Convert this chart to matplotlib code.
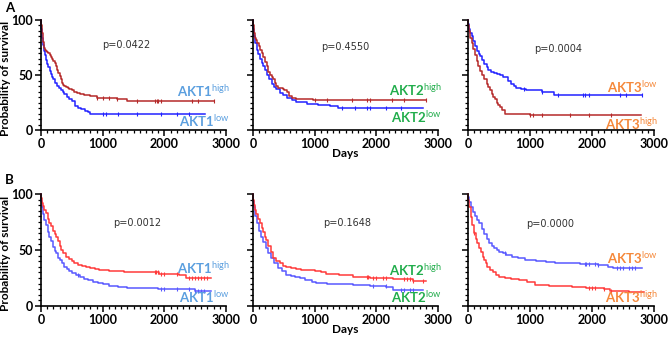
import numpy as np
import matplotlib
matplotlib.use("Agg")
import matplotlib.pyplot as plt
from matplotlib.ticker import MultipleLocator

plt.rcParams["font.family"] = ["Lato", "DejaVu Sans"]
plt.rcParams["mathtext.fontset"] = "custom"
plt.rcParams["mathtext.rm"] = "Lato"

# --- Kaplan-Meier curves (days, % surviving) ---------------------------
a1_high_t = [0, 5, 15, 30, 45, 60, 80, 100, 120, 140, 160, 180, 200, 220, 240, 260, 280, 300, 320, 340,
             360, 380, 400, 430, 460, 500, 540, 580, 640, 700, 800, 900, 1050, 1230, 1390, 2800]
a1_high_s = [100, 95, 88, 80, 75, 73, 72, 71, 70, 68, 66, 65, 63, 61, 58, 55, 52, 49, 46, 43,
             41, 40, 39, 38, 37, 36, 35, 34, 33, 32, 31, 29.5, 29, 28, 26.6, 26.6]
a1_low_t = [0, 5, 15, 30, 45, 60, 80, 100, 120, 140, 160, 180, 200, 230, 260, 290, 320, 350, 380, 420,
            460, 500, 550, 600, 650, 710, 760, 800, 2660]
a1_low_s = [100, 92, 84, 77, 72, 68, 64, 60, 57, 54, 51, 48, 46, 43, 40, 38, 36, 35, 33, 30,
            28, 26, 22, 20, 19, 17, 16, 15, 15]

a2_high_t = [0, 5, 15, 30, 50, 70, 90, 110, 140, 160, 190, 220, 245, 270, 300, 330, 350, 380, 410, 450,
             480, 510, 545, 580, 625, 700, 800, 975, 2810]
a2_high_s = [100, 95, 88, 84, 82, 79, 76, 73, 70, 66, 62, 58, 53, 50, 48, 46, 43, 40, 38, 38,
             37, 36, 35, 31, 29, 28.5, 28, 27, 27]
a2_low_t = [0, 5, 15, 30, 60, 80, 110, 140, 165, 190, 230, 260, 300, 340, 380, 430, 490, 550, 625, 700,
            870, 1050, 1250, 1380, 2750]
a2_low_s = [100, 92, 85, 79, 73, 69, 65, 61, 58, 55, 50, 46, 42, 39, 37, 34, 32, 29, 27, 25.5,
            24, 23, 22, 20, 20]

a3_low_t = [0, 5, 20, 40, 58, 80, 112, 140, 170, 190, 220, 260, 300, 325, 370, 420, 470, 510, 570, 645,
            700, 740, 777, 850, 936, 1200, 1390, 2810]
a3_low_s = [100, 96, 92, 88, 85, 81, 76, 72, 69, 67, 64, 60, 57, 55, 53, 52, 51, 50, 48, 45,
            42, 40, 38, 37, 36, 35, 32, 32]
a3_high_t = [0, 5, 20, 40, 58, 80, 110, 140, 165, 200, 230, 260, 300, 330, 350, 380, 405, 430, 460, 490,
             510, 550, 590, 1000, 2790]
a3_high_s = [100, 95, 90, 84, 79, 74, 68, 63, 58, 54, 50, 46, 42, 39, 36, 33, 30, 28, 25, 23,
             21, 18, 15, 14, 14]

b1_high_t = [0, 5, 20, 40, 55, 80, 110, 135, 160, 190, 220, 240, 270, 300, 330, 350, 400, 450, 500, 540,
             600, 660, 730, 800, 870, 945, 1100, 1200, 1350, 1480, 1700, 1920, 2100, 2240, 2350, 2750]
b1_high_s = [100, 96, 92, 89, 86, 83, 78, 74, 71, 67, 64, 62, 58, 54, 50, 47, 44, 42, 40, 38,
             37, 36, 35, 34, 33, 32, 31.5, 31, 30.8, 30.5, 30, 29, 28.5, 27.7, 24.7, 24.7]
b1_low_t = [0, 5, 20, 40, 55, 80, 110, 135, 160, 190, 220, 240, 270, 300, 340, 378, 420, 460, 510, 567,
            630, 700, 770, 836, 920, 1000, 1106, 1250, 1400, 1592, 1900, 2240, 2500, 2750]
b1_low_s = [100, 94, 88, 82, 77, 72, 66, 62, 58, 53, 49, 47, 43, 41, 38, 35, 33, 31, 29.5, 27.7,
            26, 24.5, 23, 21.7, 20.5, 19.5, 17.9, 17, 16.3, 15.8, 15.3, 14.9, 13.7, 13.7]

b2_high_t = [0, 5, 15, 28, 50, 80, 110, 140, 170, 200, 216, 250, 290, 324, 370, 430, 480, 540, 620, 700,
             780, 865, 1000, 1100, 1190, 1400, 1620, 1900, 2270, 2600, 2810]
b2_high_s = [100, 95, 90, 86, 82, 78, 74, 70, 66, 62, 59, 54, 48, 43, 40, 38, 36, 35, 34, 33,
             32.5, 32, 31, 30, 29, 27.5, 26, 25, 23.8, 22.3, 22.3]
b2_low_t = [0, 5, 15, 40, 70, 100, 135, 170, 210, 250, 297, 340, 400, 470, 540, 620, 680, 756, 850, 950,
            1026, 1200, 1400, 1620, 1900, 2160, 2270, 2750]
b2_low_s = [100, 94, 88, 80, 74, 67, 62, 57, 52, 47, 43, 38, 34, 31, 27.7, 26.5, 25.5, 24.7, 23, 21.5,
            20.2, 19.8, 19.2, 18.7, 18, 17.3, 14.3, 14.3]

b3_low_t = [0, 5, 20, 48, 80, 110, 140, 180, 220, 260, 300, 340, 380, 420, 460, 500, 560, 620, 712, 800,
            925, 1100, 1250, 1404, 1600, 1800, 1936, 2100, 2255, 2340, 2813]
b3_low_s = [100, 97, 93, 88.7, 84, 80, 77, 73.8, 69, 64, 60, 56, 54, 52, 50, 48.5, 47, 45.5, 44, 42.5,
            41, 40, 39.3, 38.7, 38.2, 37.6, 37.2, 36.5, 35, 33.6, 33.6]
b3_high_t = [0, 5, 20, 48, 70, 100, 130, 150, 180, 207, 240, 260, 290, 313, 350, 400, 450, 500, 600, 700,
             820, 950, 1085, 1300, 1500, 1670, 1900, 2200, 2290, 2600, 2840]
b3_high_s = [100, 95, 88, 79.8, 72, 65, 60, 56, 52, 48.5, 44, 41, 38, 35, 32, 30, 28, 26, 25, 24,
             23, 21, 18.7, 18.2, 17.7, 17.3, 16.5, 15, 13.4, 12.8, 12.8]

# censored observations (days)
a1_high_c = [900, 1000, 1100, 1230, 1550, 1850, 1880, 1900, 1950, 2450, 2550, 2800]
a1_low_c = [1000, 1050, 1250, 1550, 1950, 2200, 2400]
a2_high_c = [1000, 1200, 1600, 1850, 1900, 2250, 2450, 2800]
a2_low_c = [1450, 1650, 1850, 1900, 2150, 2400]
a3_low_c = [900, 1200, 1450, 1850, 1880, 1950, 2450, 2550, 2800]
a3_high_c = [1000, 1050, 1200, 1650, 1950, 2300]
b1_high_c = [1850, 1870, 1900, 1950, 2000, 2200, 2400, 2450, 2500, 2550, 2600, 2650, 2700]
b1_low_c = [600, 1950, 2000, 2200, 2400, 2500, 2550, 2600, 2650]
b2_high_c = [1850, 1870, 1950, 2000, 2100, 2150, 2450, 2500, 2550, 2600, 2750]
b2_low_c = [1950, 2150, 2400, 2450, 2550, 2600]
b3_low_c = [600, 1880, 1900, 1950, 2050, 2100, 2400, 2450, 2500, 2600, 2650, 2700]
b3_high_c = [100, 1950, 2000, 2050, 2200, 2300]

p_values = ["p=0.0422", "p=0.4550", "p=0.0004", "p=0.0012", "p=0.1648", "p=0.0000"]
p_pos = [(1390, 77), (1490, 75), (1450, 74), (1560, 74), (1530, 74), (1330, 73)]

genes = ["AKT1", "AKT2", "AKT3"]
gene_colors = ["#5b9fdf", "#22ad4c", "#f5883a"]
# y position (%) of the "high" and "low" labels per panel
label_high_y = [35, 36, 5, 34, 32, 8]
label_low_y = [8, 12, 39, 8, 8, 43]

panels = [
    (a1_high_t, a1_high_s, a1_high_c, a1_low_t, a1_low_s, a1_low_c),
    (a2_high_t, a2_high_s, a2_high_c, a2_low_t, a2_low_s, a2_low_c),
    (a3_high_t, a3_high_s, a3_high_c, a3_low_t, a3_low_s, a3_low_c),
    (b1_high_t, b1_high_s, b1_high_c, b1_low_t, b1_low_s, b1_low_c),
    (b2_high_t, b2_high_s, b2_high_c, b2_low_t, b2_low_s, b2_low_c),
    (b3_high_t, b3_high_s, b3_high_c, b3_low_t, b3_low_s, b3_low_c),
]

row_colors = [("#b52a2a", "#2222ff"), ("#ff3a3a", "#5858ff")]


def step_value(t, s, x):
    idx = np.searchsorted(np.asarray(t), x, side="right") - 1
    return np.asarray(s)[idx]


W, H = 669, 337
fig = plt.figure(figsize=(W / 100, H / 100), dpi=100)

col_left = [41, 253, 468]
col_width = [185, 185, 186]
row_top = [20, 194]
row_height = [110, 112]

for k, (ht, hs, hc, lt, ls, lc) in enumerate(panels):
    r, c = divmod(k, 3)
    ax = fig.add_axes([col_left[c] / W, 1 - (row_top[r] + row_height[r]) / H,
                       col_width[c] / W, row_height[r] / H])
    hi_col, lo_col = row_colors[r]
    for t, s, cens, col in ((lt, ls, lc, lo_col), (ht, hs, hc, hi_col)):
        ax.plot(t, s, drawstyle="steps-post", color=col, lw=1.1, clip_on=False)
        ax.plot(cens, step_value(t, s, cens), ls="none", marker="|",
                ms=3, mew=0.8, color=col, clip_on=False)

    ax.set_xlim(0, 3000)
    ax.set_ylim(0, 100)
    ax.spines[["top", "right"]].set_visible(False)
    for sp in ("left", "bottom"):
        ax.spines[sp].set_linewidth(1.2)
    ax.xaxis.set_major_locator(MultipleLocator(1000))
    ax.xaxis.set_minor_locator(MultipleLocator(100))
    ax.yaxis.set_major_locator(MultipleLocator(50))
    ax.yaxis.set_minor_locator(MultipleLocator(5))
    ax.tick_params(which="major", length=4, width=1.1, labelsize=9, pad=1.5)
    ax.tick_params(which="minor", length=2.2, width=0.9)
    for lab in ax.get_xticklabels() + ax.get_yticklabels():
        lab.set_fontweight("bold")
    if c != 0:
        ax.tick_params(axis="y", labelleft=False)
    else:
        ax.set_ylabel("Probability of survival", fontsize=8.5, fontweight="bold")
        ax.yaxis.set_label_coords(-30 / col_width[c], 0.47)
    if c == 1:
        ax.set_xlabel("Days", fontsize=8.5, fontweight="bold", labelpad=-1)

    px, py = p_pos[k]
    ax.text(px, py, p_values[k], fontsize=7, color="#333333",
            family="DejaVu Sans", ha="center", va="center")

    g = genes[c]
    gc = gene_colors[c]
    ax.text(3060, label_high_y[k], g + r"$^{\mathrm{high}}$", color=gc,
            fontsize=9.5, fontweight="bold", ha="right", va="center", clip_on=False)
    ax.text(3060, label_low_y[k], g + r"$^{\mathrm{low}}$", color=gc,
            fontsize=9.5, fontweight="bold", ha="right", va="center", clip_on=False)

fig.text(5 / W, 1 - 8 / H, "A", fontsize=9.5, fontweight="bold", va="center")
fig.text(5 / W, 1 - 180 / H, "B", fontsize=9.5, fontweight="bold", va="center")

fig.savefig("out.png", dpi=100)
